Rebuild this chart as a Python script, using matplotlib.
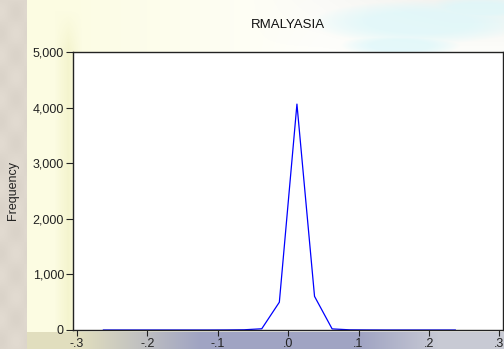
import numpy as np
import matplotlib
matplotlib.use("Agg")
import matplotlib.pyplot as plt
from matplotlib.ticker import FuncFormatter

# Frequency polygon of RMALYASIA returns (bin width 0.025)
bin_centers = [-0.2625, -0.2375, -0.2125, -0.1875, -0.1625, -0.1375, -0.1125,
               -0.0875, -0.0625, -0.0375, -0.0125, 0.0125, 0.0375, 0.0625,
               0.0875, 0.1125, 0.1375, 0.1625, 0.1875, 0.2125, 0.2375]
frequency = [0, 0, 0, 0, 0, 0, 0,
             1, 4, 22, 500, 4063, 605, 20,
             3, 1, 0, 0, 0, 0, 0]
x_ticks = [-0.3, -0.2, -0.1, 0.0, 0.1, 0.2, 0.3]
x_tick_labels = ["-.3", "-.2", "-.1", ".0", ".1", ".2", ".3"]
y_ticks = [0, 1000, 2000, 3000, 4000, 5000]

W, H = 504, 349
plt.rcParams["font.family"] = ["Liberation Sans", "DejaVu Sans"]
fig = plt.figure(figsize=(W / 100, H / 100), dpi=100)

# Slide-style backdrop behind the chart
yy, xx = np.mgrid[0:H, 0:W].astype(float)
pale_yellow = np.array([252, 252, 226]) / 255
white = np.array([255, 255, 252]) / 255
t = np.clip((xx - 60) / 260, 0, 1)[..., None]
bg = pale_yellow * (1 - t) + white * t
# slight grey shading toward the top right
shade = np.clip((xx - 250) / 200, 0, 1) * np.clip((60 - yy) / 60, 0, 1)
bg = bg - (shade * 0.05)[..., None]
# soft cyan haze in the top right
cyan = np.array([220, 247, 250]) / 255
cmask = np.zeros((H, W))
for cx, cy, rx, ry in [(420, 22, 110, 22), (400, 45, 60, 12), (480, 8, 60, 12)]:
    cmask = np.maximum(cmask, np.clip(1 - ((xx - cx) / rx) ** 2 - ((yy - cy) / ry) ** 2, 0, 1))
cmask = (np.clip(cmask * 1.3, 0, 1) * 0.75)[..., None]
bg = bg * (1 - cmask) + cyan * cmask
# soft darker band just left of the plot frame
band = np.clip(1 - np.abs(xx - 68) / 14, 0, 1) * np.clip((yy - 10) / 40, 0, 1)
bg = bg - band[..., None] * np.array([0.03, 0.03, 0.08])
# bluish grey strip below the plot
strip = (yy > 331).astype(float)[..., None]
c_left = np.array([225, 222, 190]) / 255
c_mid = np.array([160, 164, 195]) / 255
c_right = np.array([200, 202, 212]) / 255
a = np.clip((xx - 80) / 120, 0, 1)[..., None]
b = np.clip((xx - 360) / 80, 0, 1)[..., None]
strip_col = c_left * (1 - a) + c_mid * a
strip_col = strip_col * (1 - b) + c_right * b
bg = bg * (1 - strip) + strip_col * strip
# beige strip at the far left
beige = np.array([222, 215, 205]) / 255
lmask = (xx < 27).astype(float)[..., None]
ripple = (np.sin(yy / 7.0) * np.cos(xx / 5.0) * 0.015)[..., None]
bg = bg * (1 - lmask) + (beige + ripple) * lmask
bg = np.clip(bg, 0, 1)

bg_ax = fig.add_axes([0, 0, 1, 1], zorder=-10)
bg_ax.imshow(bg, aspect="auto", interpolation="bilinear")
bg_ax.axis("off")

ax = fig.add_axes([73 / W, (H - 330) / H, 430 / W, 278 / H])
ax.set_facecolor("white")
ax.plot(bin_centers, frequency, color="#0000ff", linewidth=0.9)

ax.set_xlim(-0.3057, 0.3053)
ax.set_ylim(0, 5000)
ax.set_xticks(x_ticks)
ax.set_xticklabels(x_tick_labels)
ax.set_yticks(y_ticks)
ax.yaxis.set_major_formatter(FuncFormatter(lambda v, p: f"{int(v):,}"))
ax.tick_params(axis="both", direction="out", length=4, width=0.8,
               labelsize=9, colors="#222222", pad=1.5)
ax.tick_params(axis="y", length=5)
for s in ax.spines.values():
    s.set_linewidth(1.0)
    s.set_color("#222222")

ax.set_title("RMALYASIA", fontsize=9.5, pad=17, color="#111111")
fig.text(13 / W, 1 - 191 / H, "Frequency", rotation=90, fontsize=9,
         ha="center", va="center", color="#222222")

fig.savefig("out.png", dpi=100)
